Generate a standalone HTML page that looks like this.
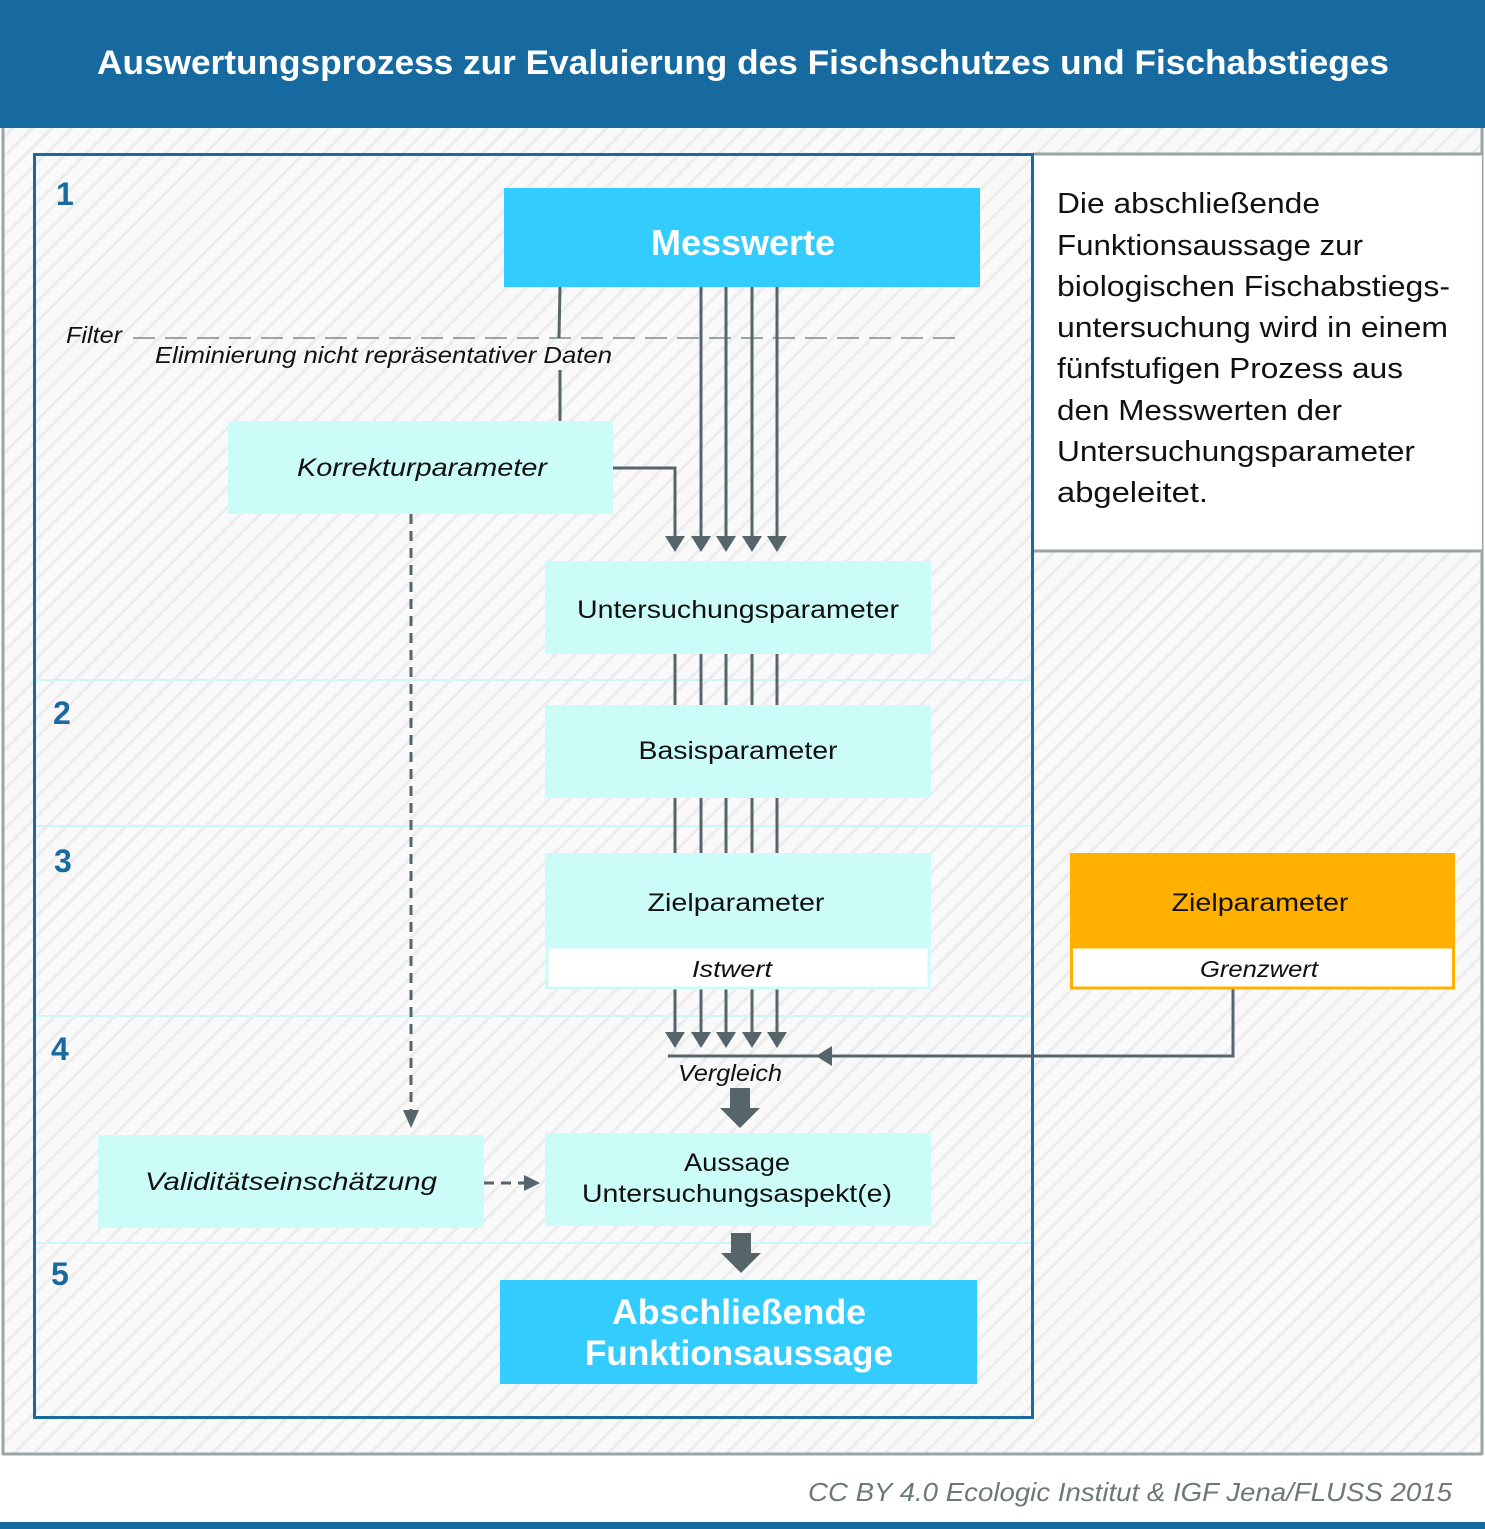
<!DOCTYPE html>
<html><head><meta charset="utf-8">
<style>
html,body{margin:0;padding:0;background:#fff;}
svg{display:block;}
text{font-family:"Liberation Sans","DejaVu Sans",sans-serif;}
</style></head>
<body>
<svg width="1485" height="1529" viewBox="0 0 1485 1529" xmlns="http://www.w3.org/2000/svg">
<defs>
<pattern id="hatch" patternUnits="userSpaceOnUse" width="14" height="14" patternTransform="rotate(-45)">
<rect width="14" height="14" fill="#f9f9f9"/>
<rect width="14" height="3" fill="#ececec"/>
</pattern>
</defs>
<!-- background -->
<rect x="0" y="0" width="1485" height="1529" fill="#fff"/>
<rect x="3" y="128" width="1479" height="1326" fill="url(#hatch)"/>
<line x1="3" y1="128" x2="3" y2="1455" stroke="#9aa5a5" stroke-width="3"/>
<line x1="1482" y1="128" x2="1482" y2="1455" stroke="#9aa5a5" stroke-width="3"/>
<line x1="3" y1="1454" x2="1482" y2="1454" stroke="#9aa5a5" stroke-width="3"/>
<!-- header -->
<rect x="0" y="0" width="1485" height="128" fill="#176a9f"/>
<text x="743" y="74" text-anchor="middle" fill="#fff" font-size="34" font-weight="bold" textLength="1292" lengthAdjust="spacingAndGlyphs">Auswertungsprozess zur Evaluierung des Fischschutzes und Fischabstieges</text>
<!-- footer -->
<rect x="0" y="1522" width="1485" height="7" fill="#176a9f"/>
<text x="1452" y="1501" text-anchor="end" fill="#6d7878" font-size="26" font-style="italic" textLength="644" lengthAdjust="spacingAndGlyphs">CC BY 4.0  Ecologic Institut &amp; IGF Jena/FLUSS 2015</text>

<!-- right text panel -->
<rect x="1033" y="154" width="449" height="397" fill="#fff"/>
<line x1="1033" y1="154" x2="1482" y2="154" stroke="#9aa5a5" stroke-width="3"/>
<line x1="1033" y1="551" x2="1482" y2="551" stroke="#9aa5a5" stroke-width="3"/>
<g fill="#111" font-size="29">
<text x="1057" y="213" textLength="263" lengthAdjust="spacingAndGlyphs">Die abschließende</text>
<text x="1057" y="255" textLength="306" lengthAdjust="spacingAndGlyphs">Funktionsaussage zur</text>
<text x="1057" y="296" textLength="393" lengthAdjust="spacingAndGlyphs">biologischen Fischabstiegs-</text>
<text x="1057" y="337" textLength="391" lengthAdjust="spacingAndGlyphs">untersuchung wird in einem</text>
<text x="1057" y="378" textLength="346" lengthAdjust="spacingAndGlyphs">fünfstufigen Prozess aus</text>
<text x="1057" y="420" textLength="285" lengthAdjust="spacingAndGlyphs">den Messwerten der</text>
<text x="1057" y="461" textLength="358" lengthAdjust="spacingAndGlyphs">Untersuchungsparameter</text>
<text x="1057" y="502" textLength="151" lengthAdjust="spacingAndGlyphs">abgeleitet.</text>
</g>

<!-- main box -->
<rect x="34.5" y="154.5" width="998" height="1263" fill="none" stroke="#1a6aa0" stroke-width="3"/>
<g stroke="#cdf6f8" stroke-width="2">
<line x1="36" y1="680" x2="1031" y2="680"/>
<line x1="36" y1="826" x2="1031" y2="826"/>
<line x1="36" y1="1016" x2="1031" y2="1016"/>
<line x1="36" y1="1243" x2="1031" y2="1243"/>
</g>
<g fill="#1a6aa0" font-size="32" font-weight="bold">
<text x="56" y="205">1</text>
<text x="53" y="724">2</text>
<text x="54" y="872">3</text>
<text x="51" y="1060">4</text>
<text x="51" y="1285">5</text>
</g>

<!-- Messwerte -->
<rect x="504" y="188" width="476" height="99" fill="#33ccff"/>
<text x="743" y="255" text-anchor="middle" fill="#fff" font-size="36" font-weight="bold" textLength="184" lengthAdjust="spacingAndGlyphs">Messwerte</text>

<!-- filter -->
<line x1="133" y1="338" x2="955" y2="338" stroke="#7f8a8a" stroke-width="1.5" stroke-dasharray="22,10"/>
<text x="66" y="343" font-size="23" font-style="italic" fill="#111" textLength="56" lengthAdjust="spacingAndGlyphs">Filter</text>
<rect x="150" y="343" width="466" height="24" fill="#f9f9f9" opacity="0"/>
<text x="155" y="363" font-size="23" font-style="italic" fill="#111" textLength="457" lengthAdjust="spacingAndGlyphs">Eliminierung nicht repräsentativer Daten</text>

<!-- connectors gray -->
<g stroke="#56656a" stroke-width="3" fill="none">
<line x1="560" y1="287" x2="559" y2="338"/>
<line x1="560" y1="370" x2="560" y2="421"/>
<polyline points="613,468 675,468 675,540"/>
<line x1="701" y1="287" x2="701" y2="540"/>
<line x1="726" y1="287" x2="726" y2="540"/>
<line x1="752" y1="287" x2="752" y2="540"/>
<line x1="777" y1="287" x2="777" y2="540"/>
<!-- between 654-705 and 798-853 -->
<path d="M675 654V705M701 654V705M726 654V705M752 654V705M777 654V705"/>
<path d="M675 798V853M701 798V853M726 798V853M752 798V853M777 798V853"/>
<path d="M675 988V1036M701 988V1036M726 988V1036M752 988V1036M777 988V1036"/>
<polyline points="668,1056 1233,1056 1233,988"/>
<line x1="411" y1="514" x2="411" y2="1112" stroke-dasharray="10,7"/>
<line x1="484" y1="1183" x2="528" y2="1183" stroke-dasharray="10,7"/>
</g>
<g fill="#56656a">
<path d="M665 536h20l-10 16z M691 536h20l-10 16z M716 536h20l-10 16z M742 536h20l-10 16z M767 536h20l-10 16z"/>
<path d="M665 1032h20l-10 16z M691 1032h20l-10 16z M716 1032h20l-10 16z M742 1032h20l-10 16z M767 1032h20l-10 16z"/>
<path d="M816 1056l16 -10v20z"/>
<path d="M403 1110h16l-8 18z"/>
<path d="M524 1175l16 8l-16 8z"/>
<path d="M730 1088h20v20h10l-20 20l-20 -20h10z"/>
<path d="M731 1233h20v20h10l-20 20l-20 -20h10z"/>
</g>

<!-- Korrekturparameter -->
<rect x="228" y="421" width="385" height="93" fill="#ccfcf7"/>
<text x="422" y="476" text-anchor="middle" font-size="25" font-style="italic" fill="#111" textLength="250" lengthAdjust="spacingAndGlyphs">Korrekturparameter</text>

<!-- Untersuchungsparameter -->
<rect x="545" y="561" width="386" height="93" fill="#ccfcf7"/>
<text x="738" y="618" text-anchor="middle" font-size="25" fill="#111" textLength="322" lengthAdjust="spacingAndGlyphs">Untersuchungsparameter</text>

<!-- Basisparameter -->
<rect x="545" y="705" width="386" height="93" fill="#ccfcf7"/>
<text x="738" y="759" text-anchor="middle" font-size="25" fill="#111" textLength="199" lengthAdjust="spacingAndGlyphs">Basisparameter</text>

<!-- Zielparameter Istwert -->
<rect x="545" y="853" width="386" height="94" fill="#ccfcf7"/>
<text x="736" y="911" text-anchor="middle" font-size="25" fill="#111" textLength="177" lengthAdjust="spacingAndGlyphs">Zielparameter</text>
<rect x="547" y="947" width="382" height="41" fill="#fff" stroke="#ccfcf7" stroke-width="3"/>
<text x="732" y="977" text-anchor="middle" font-size="23" font-style="italic" fill="#111" textLength="80" lengthAdjust="spacingAndGlyphs">Istwert</text>

<!-- orange Zielparameter -->
<rect x="1070" y="853" width="385" height="94" fill="#ffb000"/>
<text x="1260" y="911" text-anchor="middle" font-size="25" fill="#111" textLength="177" lengthAdjust="spacingAndGlyphs">Zielparameter</text>
<rect x="1071.5" y="947" width="382" height="41" fill="#fff" stroke="#ffb000" stroke-width="3"/>
<text x="1259" y="977" text-anchor="middle" font-size="23" font-style="italic" fill="#111" textLength="118" lengthAdjust="spacingAndGlyphs">Grenzwert</text>

<text x="730" y="1081" text-anchor="middle" font-size="23" font-style="italic" fill="#111" textLength="104" lengthAdjust="spacingAndGlyphs">Vergleich</text>

<!-- Validität -->
<rect x="98" y="1135" width="386" height="93" fill="#ccfcf7"/>
<text x="291" y="1190" text-anchor="middle" font-size="25" font-style="italic" fill="#111" textLength="292" lengthAdjust="spacingAndGlyphs">Validitätseinschätzung</text>

<!-- Aussage -->
<rect x="545" y="1133" width="386" height="93" fill="#ccfcf7"/>
<text x="737" y="1171" text-anchor="middle" font-size="25" fill="#111" textLength="106" lengthAdjust="spacingAndGlyphs">Aussage</text>
<text x="737" y="1202" text-anchor="middle" font-size="25" fill="#111" textLength="310" lengthAdjust="spacingAndGlyphs">Untersuchungsaspekt(e)</text>

<!-- Final -->
<rect x="500" y="1280" width="477" height="104" fill="#33ccff"/>
<text x="739" y="1324" text-anchor="middle" fill="#fff" font-size="35" font-weight="bold" textLength="254" lengthAdjust="spacingAndGlyphs">Abschließende</text>
<text x="739" y="1365" text-anchor="middle" fill="#fff" font-size="35" font-weight="bold" textLength="308" lengthAdjust="spacingAndGlyphs">Funktionsaussage</text>
</svg>
</body></html>
